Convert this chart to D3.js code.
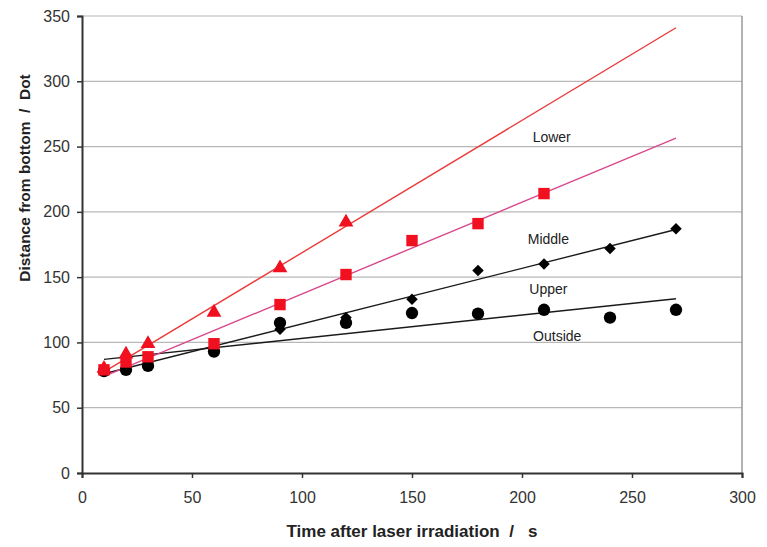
<!DOCTYPE html>
<html lang="en">
<head>
  <meta charset="UTF-8" />
  <title>Distance from bottom vs time</title>
  <script src="https://cdn.jsdelivr.net/npm/d3@7"></script>
  <style>
    body { margin: 0; background: #fff; }
    svg text { font-family: "Liberation Sans", Arial, sans-serif; fill: #222; }
    .tick text { font-size: 16px; fill: #333; }
    .axis-title { font-weight: bold; }
    .series-label { font-size: 14px; }
  </style>
</head>
<body>
<div id="chart"></div>
<script>
// data
const times = [10, 20, 30, 60, 90, 120, 150, 180, 210, 240, 270];
const lowerVals   = [80, 91, 99, 123, 157, 192];
const middleVals  = [79, 85, 89, 99, 129, 152, 178, 191, 214];
const upperVals   = [79, 81, 85, 94, 110, 119, 133, 155, 160, 172, 187];
const outsideVals = [78, 79, 82, 93, 115, 115, 122.5, 122, 125, 119, 125];
// trend lines, value at first and last time
const trendTimes   = [10, 270];
const trendLower   = [77.5, 341];
const trendMiddle  = [74, 256.5];
const trendUpper   = [76, 186.5];
const trendOutside = [87, 133.5];
const seriesNames = ["Lower", "Middle", "Upper", "Outside"];
const xTicks = [0, 50, 100, 150, 200, 250, 300];
const yTicks = [0, 50, 100, 150, 200, 250, 300, 350];

const W = 767, H = 547;
const margin = { left: 82, top: 16, right: 25, bottom: 74 };
const iw = W - margin.left - margin.right, ih = H - margin.top - margin.bottom;

const svg = d3.select("#chart").append("svg")
  .attr("width", W).attr("height", H);
const g = svg.append("g").attr("transform", `translate(${margin.left},${margin.top})`);

const x = d3.scaleLinear().domain([0, 300]).range([0, iw]);
const y = d3.scaleLinear().domain([0, 350]).range([ih, 0]);

// grid
g.append("g").selectAll("line").data(yTicks.filter(d => d > 0)).enter()
  .append("line")
  .attr("x1", 0).attr("x2", iw)
  .attr("y1", d => y(d)).attr("y2", d => y(d))
  .attr("stroke", "#b8b8b8").attr("stroke-width", 1.2);
// right border
g.append("line")
  .attr("x1", iw).attr("x2", iw).attr("y1", 0).attr("y2", ih)
  .attr("stroke", "#999").attr("stroke-width", 1.5);

// axes
const xAxis = g.append("g").attr("transform", `translate(0,${ih})`)
  .call(d3.axisBottom(x).tickValues(xTicks).tickSize(5).tickPadding(14));
const yAxis = g.append("g")
  .call(d3.axisLeft(y).tickValues(yTicks).tickSize(5).tickPadding(7));
[xAxis, yAxis].forEach(a => {
  a.select(".domain").attr("stroke", "#333").attr("stroke-width", 2);
  a.selectAll(".tick line").attr("stroke", "#333").attr("stroke-width", 1.5);
});

// axis titles
svg.append("text").attr("class", "axis-title")
  .attr("x", 412).attr("y", 537)
  .attr("font-size", "17px")
  .attr("text-anchor", "middle")
  .attr("xml:space", "preserve")
  .text("Time after laser irradiation  /   s");
svg.append("text").attr("class", "axis-title")
  .attr("transform", "translate(30,178) rotate(-90)")
  .attr("font-size", "15.5px")
  .attr("text-anchor", "middle")
  .attr("xml:space", "preserve")
  .text("Distance from bottom  /  Dot");

// trend lines
const trends = [
  { vals: trendOutside, color: "#1a1a1a" },
  { vals: trendUpper, color: "#1a1a1a" },
  { vals: trendMiddle, color: "#d9488a" },
  { vals: trendLower, color: "#ea3a3a" }
];
const line = d3.line().x((d, i) => x(trendTimes[i])).y(d => y(d));
trends.forEach(t => {
  g.append("path").datum(t.vals)
    .attr("d", line)
    .attr("fill", "none")
    .attr("stroke", t.color)
    .attr("stroke-width", 1.4);
});

// markers
const series = [
  { vals: outsideVals, symbol: d3.symbolCircle, size: 120, rot: 0, color: "#000" },
  { vals: upperVals, symbol: d3.symbolSquare, size: 66, rot: 45, color: "#000" },
  { vals: middleVals, symbol: d3.symbolSquare, size: 130, rot: 0, color: "#f01020" },
  { vals: lowerVals, symbol: d3.symbolTriangle, size: 95, rot: 0, color: "#f01020" }
];
series.forEach(s => {
  g.append("g").selectAll("path").data(s.vals).enter()
    .append("path")
    .attr("d", d3.symbol().type(s.symbol).size(s.size))
    .attr("transform", (d, i) => `translate(${x(times[i])},${y(d)}) rotate(${s.rot})`)
    .attr("fill", s.color);
});

// series labels
const labelAt = [[213.5, 257], [212, 179], [212, 141], [216, 105]];
g.append("g").selectAll("text").data(seriesNames).enter()
  .append("text").attr("class", "series-label")
  .attr("x", (d, i) => x(labelAt[i][0]))
  .attr("y", (d, i) => y(labelAt[i][1]))
  .attr("text-anchor", "middle")
  .attr("dy", "0.35em")
  .text(d => d);
</script>
</body>
</html>
